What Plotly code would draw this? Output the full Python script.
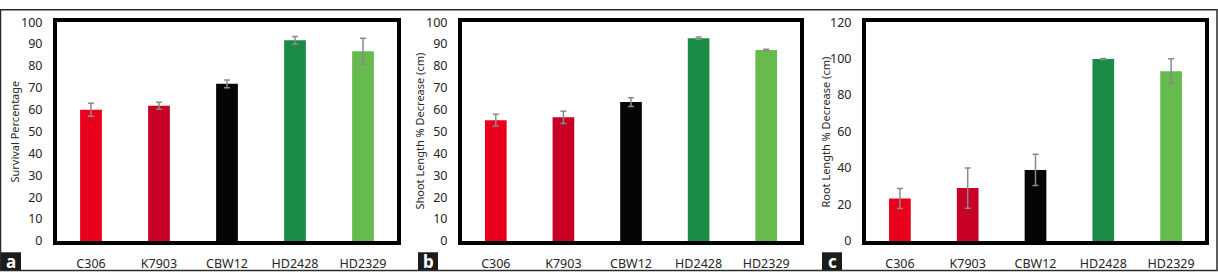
import plotly.graph_objects as go

W, H = 1218, 280

categories = ["C306", "K7903", "CBW12", "HD2428", "HD2329"]
bar_colors = ["#E8001C", "#C90026", "#050505", "#1B8B48", "#67BB4E"]

survival = [60.0, 61.8, 71.8, 91.7, 86.7]
survival_err = [3.0, 1.6, 1.8, 1.8, 6.0]

shoot = [55.2, 56.5, 63.5, 92.7, 87.3]
shoot_err = [2.7, 2.8, 2.0, 0.5, 0.3]

root = [23.3, 29.0, 39.0, 99.8, 93.1]
root_err = [5.5, 11.0, 8.5, 0.3, 6.8]

y_titles = ["Survival Percentage", "Shoot Length % Decrease (cm)", "Root Length % Decrease (cm)"]
y_ranges = [[0, 100], [0, 100], [0, 120]]
y_dticks = [10, 10, 20]
panel_letters = ["a", "b", "c"]

series = [(survival, survival_err), (shoot, shoot_err), (root, root_err)]

# pixel layout
x_domains_px = [(57, 397), (462, 800), (866, 1205)]
y_top_px, y_bot_px = 14, 247
title_x_px = [15, 420, 826]
letter_box_px = [(0, 21), (418, 438), (822, 842)]

def px_x(v):
    return v / W

def px_y(v):
    return 1 - v / H

FONT = "Noto Sans"
TXT = "#262626"
fig = go.Figure()

for i, (vals, errs) in enumerate(series):
    ax = "" if i == 0 else str(i + 1)
    fig.add_trace(go.Bar(
        x=categories, y=vals,
        marker=dict(color=bar_colors, line=dict(width=0)),
        width=0.32,
        error_y=dict(type="data", array=errs, visible=True,
                     color="#8a8a8a", thickness=1.5, width=3),
        xaxis="x" + ax, yaxis="y" + ax, showlegend=False,
    ))
    x0, x1 = x_domains_px[i]
    fig.layout["xaxis" + ax] = dict(
        domain=[px_x(x0), px_x(x1)], anchor="y" + ax,
        showline=True, linecolor="black", linewidth=4, mirror=True,
        ticks="", showgrid=False, zeroline=False,
        tickfont=dict(family=FONT, size=12.5, color=TXT),
        ticklabelstandoff=8,
    )
    fig.layout["yaxis" + ax] = dict(
        domain=[px_y(y_bot_px), px_y(y_top_px)], anchor="x" + ax,
        range=y_ranges[i], dtick=y_dticks[i],
        showline=True, linecolor="black", linewidth=4, mirror=True,
        ticks="", showgrid=False, zeroline=False,
        tickfont=dict(family=FONT, size=12.5, color=TXT),
        ticklabelstandoff=8,
    )
    fig.add_annotation(
        text=y_titles[i], textangle=-90, showarrow=False,
        x=px_x(title_x_px[i]), y=px_y((y_top_px + y_bot_px) / 2),
        xref="paper", yref="paper", xanchor="center", yanchor="middle",
        font=dict(family=FONT, size=11, color=TXT),
    )
    bx0, bx1 = letter_box_px[i]
    fig.add_shape(type="rect", xref="paper", yref="paper",
                  x0=px_x(bx0), x1=px_x(bx1), y0=px_y(278), y1=px_y(259),
                  fillcolor="#1c1c1c", line=dict(width=0))
    fig.add_annotation(
        text="<b>" + panel_letters[i] + "</b>", showarrow=False,
        x=px_x((bx0 + bx1) / 2), y=px_y(268.5),
        xref="paper", yref="paper", xanchor="center", yanchor="middle",
        font=dict(family=FONT, size=17, color="white"),
    )

# outer frame
fig.add_shape(type="rect", xref="paper", yref="paper",
              x0=px_x(0.5), x1=px_x(W - 1), y0=px_y(H - 1.5), y1=px_y(0.8),
              line=dict(color="#2a2a2a", width=1.5), fillcolor="rgba(0,0,0,0)")

fig.update_layout(
    width=W, height=H,
    margin=dict(l=0, r=0, t=0, b=0),
    paper_bgcolor="white", plot_bgcolor="white",
    bargap=0.68,
)

fig.write_html("out.html")
